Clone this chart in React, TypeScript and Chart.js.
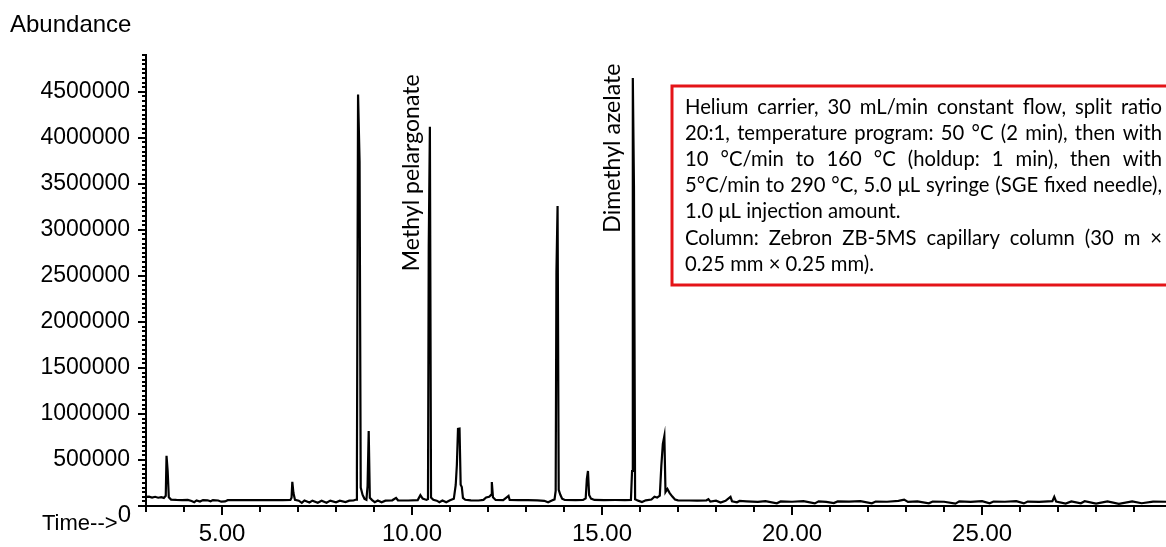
import React, { useEffect, useRef } from 'react';
import { Chart, registerables } from 'chart.js';

Chart.register(...registerables);

// Retention time (min) of each plotted scan
const timeMin: number[] = [
  3.00, 3.08, 3.16, 3.24, 3.32, 3.40, 3.47, 3.52, 3.54, 3.57, 3.60, 3.66, 3.80, 3.95,
  4.10, 4.20, 4.27, 4.33, 4.42, 4.50, 4.62, 4.70, 4.76, 4.90, 4.98, 5.08, 5.15, 5.40,
  5.80, 6.20, 6.60, 6.80, 6.83, 6.85, 6.88, 6.92, 7.02, 7.10, 7.17, 7.30, 7.38, 7.52,
  7.62, 7.75, 7.85, 8.00, 8.10, 8.25, 8.35, 8.46, 8.53, 8.55, 8.58, 8.62, 8.65, 8.70,
  8.75, 8.80, 8.83, 8.86, 8.89, 8.95, 9.02, 9.10, 9.20, 9.30, 9.48, 9.58, 9.63, 9.90,
  10.15, 10.22, 10.28, 10.38, 10.42, 10.44, 10.47, 10.50, 10.56, 10.65, 10.72, 10.80,
  10.90, 11.00, 11.10, 11.15, 11.18, 11.21, 11.25, 11.28, 11.31, 11.34, 11.40, 11.55,
  11.75, 11.88, 11.95, 12.03, 12.08, 12.10, 12.13, 12.20, 12.40, 12.54, 12.57, 12.80,
  13.05, 13.30, 13.48, 13.58, 13.68, 13.75, 13.78, 13.80, 13.83, 13.86, 13.90, 13.95,
  14.02, 14.30, 14.50, 14.57, 14.60, 14.63, 14.66, 14.71, 14.80, 15.05, 15.35, 15.60,
  15.76, 15.79, 15.81, 15.84, 15.87, 15.95, 16.05, 16.15, 16.30, 16.38, 16.45, 16.52,
  16.56, 16.60, 16.64, 16.67, 16.72, 16.78, 16.85, 16.92, 17.00, 17.30, 17.50, 17.75,
  17.80, 17.85, 18.00, 18.12, 18.25, 18.38, 18.42, 18.55, 18.62, 18.80, 19.10, 19.30,
  19.60, 19.70, 20.00, 20.30, 20.60, 20.70, 20.90, 21.10, 21.20, 21.50, 21.80, 22.10,
  22.20, 22.50, 22.80, 22.95, 23.05, 23.30, 23.60, 23.70, 24.00, 24.30, 24.40, 24.70,
  25.00, 25.20, 25.30, 25.60, 25.90, 26.10, 26.20, 26.50, 26.85, 26.90, 26.95, 27.20,
  27.35, 27.60, 27.70, 28.00, 28.30, 28.60, 28.95, 29.20, 29.50, 29.85,
];

// Abundance of each scan
const abundance: number[] = [
  98000, 102000, 92000, 100000, 90000, 96000, 88000, 110000, 545000, 380000, 95000, 70000, 66000, 64000,
  66000, 55000, 42000, 60000, 48000, 64000, 62000, 52000, 64000, 60000, 47000, 50000, 63000, 65000,
  64000, 63000, 64000, 66000, 90000, 262000, 140000, 68000, 58000, 34000, 60000, 38000, 58000, 36000,
  57000, 35000, 58000, 40000, 57000, 42000, 58000, 60000, 70000, 400000, 4470000, 3740000, 200000, 120000,
  78000, 68000, 217000, 815000, 90000, 64000, 42000, 60000, 40000, 58000, 62000, 88000, 62000, 60000,
  64000, 118000, 80000, 66000, 75000, 2830000, 4120000, 92000, 68000, 58000, 42000, 60000,
  40000, 62000, 78000, 228000, 445000, 837000, 840000, 230000, 205000, 88000, 68000, 62000,
  60000, 66000, 92000, 100000, 120000, 260000, 95000, 66000, 64000, 110000, 66000, 64000,
  63000, 62000, 56000, 40000, 60000, 72000, 163000, 2540000, 3260000, 175000, 125000, 80000,
  65000, 64000, 66000, 82000, 293000, 380000, 120000, 80000, 66000, 64000, 65000, 64000,
  66000, 380000, 4650000, 3480000, 72000, 58000, 44000, 62000, 70000, 100000, 92000, 112000,
  435000, 674000, 760000, 152000, 185000, 140000, 102000, 70000, 62000, 60000, 58000, 62000,
  75000, 48000, 58000, 38000, 56000, 100000, 52000, 40000, 55000, 50000, 44000, 52000,
  30000, 50000, 46000, 52000, 28000, 50000, 45000, 32000, 50000, 47000, 52000, 30000,
  48000, 46000, 55000, 70000, 45000, 50000, 30000, 48000, 46000, 25000, 50000, 44000,
  52000, 30000, 48000, 46000, 52000, 28000, 48000, 45000, 52000, 100000, 48000, 26000,
  50000, 30000, 52000, 26000, 50000, 24000, 50000, 30000, 48000, 46000,
];

const xMajorTimes: number[] = [5, 10, 15, 20, 25];
const yTickValues: number[] = [500000, 1000000, 1500000, 2000000, 2500000, 3000000, 3500000, 4000000, 4500000];
const yMajorStep = 500000;
const yMinorStep = 50000;
const X_MIN = 3;
const X_MAX = 29.84;
const Y_MAX = 4900000;

const peakNames: string[] = ['Methyl pelargonate', 'Dimethyl azelate'];
const peakTimes: number[] = [10.47, 15.81];

const conditionLines: string[] = [
  'Helium carrier, 30 mL/min constant flow, split ratio',
  '20:1, temperature program: 50 °C (2 min), then with',
  '10 °C/min to 160 °C (holdup: 1 min), then with',
  '5°C/min to 290 °C, 5.0 μL syringe (SGE fixed needle),',
  '1.0 μL injection amount.',
  'Column: Zebron ZB-5MS capillary column (30 m ×',
  '0.25 mm × 0.25 mm).',
];
const conditionJustify: boolean[] = [true, true, true, true, false, true, false];

const AXIS_FONT = '"Liberation Sans", Arial, sans-serif';
const NOTE_FONT = 'Lato, "Open Sans", sans-serif';

function drawLine(ctx: CanvasRenderingContext2D, text: string, x: number, y: number, width: number, justify: boolean) {
  if (!justify) {
    ctx.fillText(text, x, y);
    return;
  }
  const words = text.split(' ');
  const ww = words.map((w) => ctx.measureText(w).width);
  const total = ww.reduce((a, b) => a + b, 0);
  const gap = (width - total) / (words.length - 1);
  let cx = x;
  words.forEach((w, i) => {
    ctx.fillText(w, cx, y);
    cx += ww[i] + gap;
  });
}

const decorPlugin = {
  id: 'decor',
  afterDraw(chart: any) {
    const { ctx, chartArea } = chart;
    const xs = chart.scales.x;
    const ys = chart.scales.y;
    ctx.save();
    ctx.strokeStyle = '#000';
    ctx.fillStyle = '#000';
    ctx.lineWidth = 2;

    // y ticks (major + minor)
    for (let v = 0; v <= Y_MAX + 1; v += yMinorStep) {
      const py = Math.round(ys.getPixelForValue(v));
      const major = v % yMajorStep === 0;
      const len = major ? 8 : 4;
      ctx.beginPath();
      ctx.moveTo(chartArea.left - len, py);
      ctx.lineTo(chartArea.left, py);
      ctx.stroke();
    }
    // x ticks (every minute, longer at labelled ones)
    for (let t = Math.ceil(X_MIN); t <= X_MAX; t += 1) {
      const px = Math.round(xs.getPixelForValue(t));
      const major = xMajorTimes.includes(t);
      const len = major ? 9 : 6;
      ctx.beginPath();
      ctx.moveTo(px, chartArea.bottom);
      ctx.lineTo(px, chartArea.bottom + len);
      ctx.stroke();
    }

    // axis titles
    ctx.textBaseline = 'alphabetic';
    ctx.textAlign = 'left';
    ctx.font = `24px ${AXIS_FONT}`;
    ctx.fillText('Abundance', 10, 32);
    ctx.font = `22px ${AXIS_FONT}`;
    ctx.fillText('Time-->', 42, 530);
    ctx.font = `24px ${AXIS_FONT}`;
    ctx.textAlign = 'right';
    ctx.fillText('0', 131, 522);

    // peak annotations (rotated)
    ctx.font = `24px ${NOTE_FONT}`;
    const mw = ctx.measureText(peakNames[0]).width;
    const noteSize = (24 * 197) / mw;
    ctx.font = `${noteSize}px ${NOTE_FONT}`;
    ctx.textAlign = 'left';
    ctx.textBaseline = 'middle';
    const labelBase = [2550000, 2970000];
    const labelOffset = [-18, -20];
    peakNames.forEach((name, i) => {
      const px = xs.getPixelForValue(peakTimes[i]) + labelOffset[i];
      const py = ys.getPixelForValue(labelBase[i]);
      ctx.save();
      ctx.translate(px, py);
      ctx.rotate(-Math.PI / 2);
      ctx.fillText(name, 0, 0);
      ctx.restore();
    });

    // conditions box
    const boxLeft = 672;
    const boxTop = 86;
    const boxBottom = 285;
    const boxRight = 1180;
    ctx.fillStyle = '#fff';
    ctx.fillRect(boxLeft, boxTop, boxRight - boxLeft, boxBottom - boxTop);
    ctx.strokeStyle = 'rgb(228, 20, 24)';
    ctx.lineWidth = 3;
    ctx.strokeRect(boxLeft, boxTop, boxRight - boxLeft, boxBottom - boxTop);

    ctx.fillStyle = '#000';
    ctx.font = `20px ${NOTE_FONT}`;
    const lw = ctx.measureText(conditionLines[3]).width;
    const boxSize = (20 * 472) / lw;
    ctx.font = `${boxSize}px ${NOTE_FONT}`;
    ctx.textAlign = 'left';
    ctx.textBaseline = 'middle';
    conditionLines.forEach((line, i) => {
      drawLine(ctx, line, 685, 107 + i * 26.2, 477, conditionJustify[i]);
    });
    ctx.restore();
  },
};

export default function App() {
  const ref = useRef<HTMLCanvasElement>(null);
  useEffect(() => {
    const points = timeMin.map((t, i) => ({ x: t, y: abundance[i] }));
    const chart = new Chart(ref.current as HTMLCanvasElement, {
      type: 'line',
      data: {
        datasets: [
          {
            data: points,
            borderColor: '#000',
            borderWidth: 2.2,
            pointRadius: 0,
            tension: 0,
            fill: false,
          },
        ],
      },
      options: {
        responsive: false,
        animation: false,
        layout: { padding: { top: 55, left: 0, right: 0, bottom: 0 } },
        plugins: {
          legend: { display: false },
          tooltip: { enabled: false },
          title: { display: false },
        },
        scales: {
          x: {
            type: 'linear',
            min: X_MIN,
            max: X_MAX,
            grid: { display: false, drawTicks: false },
            border: { display: true, color: '#000', width: 2 },
            afterBuildTicks: (axis: any) => {
              axis.ticks = xMajorTimes.map((v) => ({ value: v }));
            },
            ticks: {
              autoSkip: false,
              maxRotation: 0,
              padding: 14,
              color: '#000',
              font: { family: AXIS_FONT, size: 24 },
              callback: (v: any) => Number(v).toFixed(2),
            },
            afterFit: (s: any) => {
              s.height = 41;
            },
          },
          y: {
            type: 'linear',
            min: 0,
            max: Y_MAX,
            grid: { display: false, drawTicks: false },
            border: { display: true, color: '#000', width: 2 },
            afterBuildTicks: (axis: any) => {
              axis.ticks = yTickValues.map((v) => ({ value: v }));
            },
            ticks: {
              autoSkip: false,
              padding: 16,
              color: '#000',
              font: { family: AXIS_FONT, size: 23 },
              callback: (v: any) => String(v),
            },
            afterFit: (s: any) => {
              s.width = 146;
            },
          },
        },
      },
      plugins: [decorPlugin],
    });
    return () => chart.destroy();
  }, []);
  return (
    <div style={{ position: 'fixed', left: 0, top: 0, width: 1166, height: 547, background: '#fff' }}>
      <canvas ref={ref} width={1166} height={547} style={{ display: 'block' }} />
    </div>
  );
}
